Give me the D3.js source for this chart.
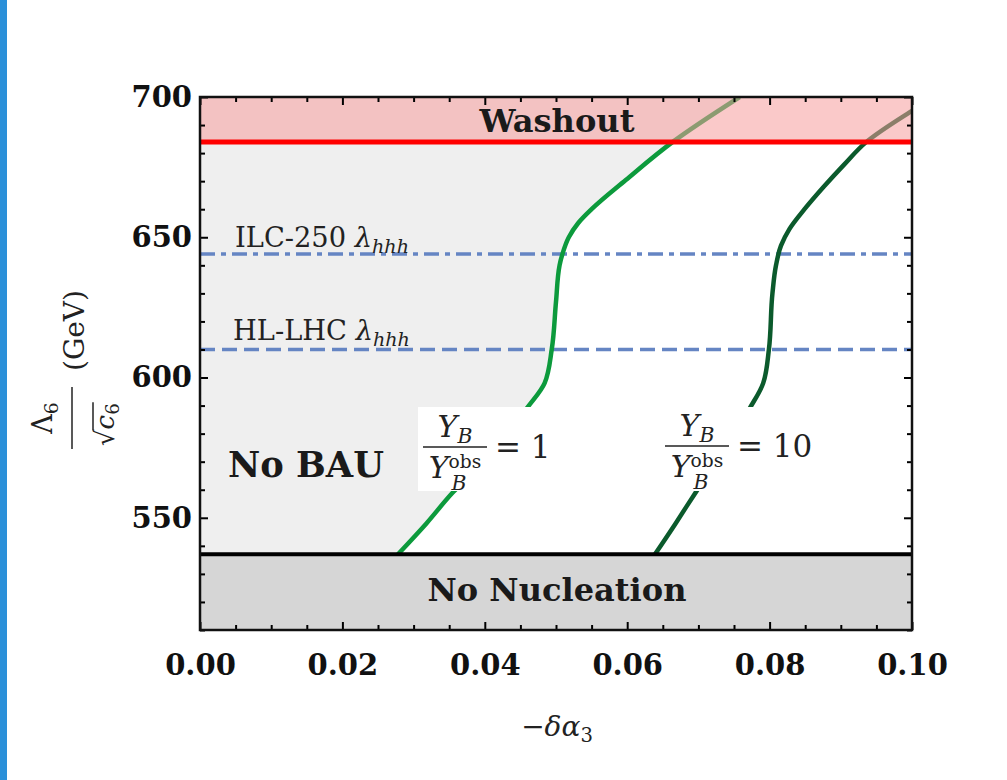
<!DOCTYPE html>
<html><head><meta charset="utf-8">
<script src="https://cdn.jsdelivr.net/npm/d3@7"></script>
<style>body{margin:0;background:#fff} svg{display:block}</style>
</head><body>
<svg id="c" width="1007" height="780"></svg>
<script>
// ---- data ----
const xTickValues = [0, 0.02, 0.04, 0.06, 0.08, 0.10];
const xTickLabels = ["0.00", "0.02", "0.04", "0.06", "0.08", "0.10"];
const yTickValues = [550, 600, 650, 700];
const yTickLabels = ["550", "600", "650", "700"];
const washoutLevel = 684;
const nucleationLevel = 537;
const ilcLevel = 644;
const hllhcLevel = 610;
// Y_B / Y_B^obs = 1 contour
const curve1X = [0.0278, 0.0318, 0.0355, 0.0395, 0.0430, 0.0459, 0.0484, 0.0494, 0.0500, 0.0505, 0.0509, 0.0518, 0.0531, 0.0550, 0.0598, 0.0664, 0.0758];
const curve1Y = [537, 548, 559, 569, 579, 589, 598, 610, 627, 640, 644, 650, 655, 660, 670.4, 684, 700];
// Y_B / Y_B^obs = 10 contour
const curve2X = [0.0639, 0.0668, 0.0695, 0.0722, 0.0748, 0.0772, 0.0791, 0.0799, 0.0804, 0.0809, 0.0816, 0.0828, 0.0849, 0.0876, 0.0905, 0.0936, 0.0997, 0.1012];
const curve2Y = [537, 548, 558.6, 569, 579, 589, 598, 610, 630, 640, 647, 653, 660, 668, 676, 684, 694.6, 697];

// ---- layout ----
const svg = d3.select("#c");
const m = {l: 200, r: 912, t: 97, b: 630};
const x = d3.scaleLinear().domain([0, 0.1]).range([m.l, m.r]);
const y = d3.scaleLinear().domain([510, 700]).range([m.b, m.t]);
const SERIF = "'DejaVu Serif', serif";

// left decorative blue strip
svg.append("rect").attr("x", 0).attr("y", 0).attr("width", 7).attr("height", 780).attr("fill", "#2b90d9");

svg.append("defs").append("clipPath").attr("id", "clip")
  .append("rect").attr("x", m.l).attr("y", m.t).attr("width", m.r - m.l).attr("height", m.b - m.t);

const plot = svg.append("g").attr("clip-path", "url(#clip)");
plot.append("rect").attr("x", m.l).attr("y", m.t).attr("width", m.r - m.l).attr("height", m.b - m.t).attr("fill", "#fff");

const c1 = curve1X.map((v, i) => ({x: v, y: curve1Y[i]}));
const c2 = curve2X.map((v, i) => ({x: v, y: curve2Y[i]}));

// No BAU region (left of curve 1)
plot.append("path").datum(c1)
  .attr("d", d3.area().y(d => y(d.y)).x0(x(0)).x1(d => x(d.x)).curve(d3.curveMonotoneY))
  .attr("fill", "#efefef");

// No nucleation region
plot.append("rect").attr("x", x(0)).attr("width", x(0.1) - x(0))
  .attr("y", y(nucleationLevel)).attr("height", y(510) - y(nucleationLevel)).attr("fill", "#d6d6d6");

// dashed projection lines
plot.append("line").attr("x1", x(0)).attr("x2", x(0.1)).attr("y1", y(ilcLevel)).attr("y2", y(ilcLevel))
  .attr("stroke", "#6585c3").attr("stroke-width", 3.5).attr("stroke-dasharray", "15,6,5,6");
plot.append("line").attr("x1", x(0)).attr("x2", x(0.1)).attr("y1", y(hllhcLevel)).attr("y2", y(hllhcLevel))
  .attr("stroke", "#6585c3").attr("stroke-width", 3.5).attr("stroke-dasharray", "15,7");

// contours
const line = d3.line().x(d => x(d.x)).y(d => y(d.y)).curve(d3.curveMonotoneY);
plot.append("path").datum(c1).attr("d", line).attr("fill", "none").attr("stroke", "#0c9a3c").attr("stroke-width", 4.5);
plot.append("path").datum(c2).attr("d", line).attr("fill", "none").attr("stroke", "#0b5a2c").attr("stroke-width", 4.5);

// label boxes
function fracLabel(cx, lineY, rhs) {
  const g = svg.append("g");
  const num = g.append("text").attr("x", cx).attr("y", lineY - 10).attr("text-anchor", "middle")
    .attr("font-family", SERIF).attr("font-size", 30).attr("font-style", "italic").attr("fill", "#222");
  num.append("tspan").text("Y");
  num.append("tspan").attr("font-size", "0.68em").attr("dy", "0.3em").text("B");
  const den = g.append("text").attr("x", cx).attr("y", lineY + 31).attr("text-anchor", "middle")
    .attr("font-family", SERIF).attr("font-size", 30).attr("font-style", "italic").attr("fill", "#222");
  den.append("tspan").text("Y");
  den.append("tspan").attr("font-size", "0.62em").attr("font-style", "normal").attr("dy", "-0.55em").text("obs");
  den.append("tspan").attr("font-size", "0.68em").attr("x", cx + 4).attr("dy", "1.1em").text("B");
  g.append("line").attr("x1", cx - 32).attr("x2", cx + 32).attr("y1", lineY).attr("y2", lineY)
    .attr("stroke", "#222").attr("stroke-width", 1.5);
  g.append("text").attr("x", cx + 40).attr("y", lineY + 11)
    .attr("font-family", SERIF).attr("font-size", 31).attr("fill", "#222").text(rhs);
  return g;
}
svg.append("rect").attr("x", 418).attr("y", 407).attr("width", 134).attr("height", 84).attr("fill", "#fff");
svg.append("rect").attr("x", 660).attr("y", 407).attr("width", 150).attr("height", 84).attr("fill", "#fff");
fracLabel(455, 447, "= 1");
fracLabel(697, 446, "= 10");

// washout overlay
svg.append("rect").attr("x", x(0)).attr("width", x(0.1) - x(0))
  .attr("y", y(700)).attr("height", y(washoutLevel) - y(700))
  .attr("fill", "#f59c9c").attr("opacity", 0.55);

// boundary lines
svg.append("line").attr("x1", x(0)).attr("x2", x(0.1)).attr("y1", y(washoutLevel)).attr("y2", y(washoutLevel))
  .attr("stroke", "#ff0000").attr("stroke-width", 5);
svg.append("line").attr("x1", x(0)).attr("x2", x(0.1)).attr("y1", y(nucleationLevel)).attr("y2", y(nucleationLevel))
  .attr("stroke", "#000").attr("stroke-width", 4);

// axes: ticks inward on all four sides
const minorX = d3.range(0, 0.1001, 0.005).filter(v => !xTickValues.some(t => Math.abs(t - v) < 1e-9));
const minorY = d3.range(510, 701, 10).filter(v => !yTickValues.includes(v));
function styleAxis(g) {
  g.selectAll(".domain").remove();
  g.selectAll(".tick line").attr("stroke", "#000").attr("stroke-width", 2);
}
const fmtX = (d, i) => xTickLabels[i];
const fmtY = (d, i) => yTickLabels[i];

svg.append("g").attr("transform", `translate(0,${m.b})`)
  .call(d3.axisBottom(x).tickValues(xTickValues).tickFormat(fmtX).tickSizeInner(-8).tickSizeOuter(0).tickPadding(24))
  .call(styleAxis)
  .call(g => g.selectAll("text").attr("font-family", SERIF).attr("font-weight", "bold").attr("font-size", 29).attr("fill", "#111"));
svg.append("g").attr("transform", `translate(0,${m.b})`)
  .call(d3.axisBottom(x).tickValues(minorX).tickFormat("").tickSizeInner(-5).tickSizeOuter(0)).call(styleAxis);
svg.append("g").attr("transform", `translate(0,${m.t})`)
  .call(d3.axisTop(x).tickValues(xTickValues).tickFormat("").tickSizeInner(-8).tickSizeOuter(0)).call(styleAxis);
svg.append("g").attr("transform", `translate(0,${m.t})`)
  .call(d3.axisTop(x).tickValues(minorX).tickFormat("").tickSizeInner(-5).tickSizeOuter(0)).call(styleAxis);

svg.append("g").attr("transform", `translate(${m.l},0)`)
  .call(d3.axisLeft(y).tickValues(yTickValues).tickFormat(fmtY).tickSizeInner(-8).tickSizeOuter(0).tickPadding(8))
  .call(styleAxis)
  .call(g => g.selectAll("text").attr("font-family", SERIF).attr("font-weight", "bold").attr("font-size", 29).attr("fill", "#111"));
svg.append("g").attr("transform", `translate(${m.l},0)`)
  .call(d3.axisLeft(y).tickValues(minorY).tickFormat("").tickSizeInner(-5).tickSizeOuter(0)).call(styleAxis);
svg.append("g").attr("transform", `translate(${m.r},0)`)
  .call(d3.axisRight(y).tickValues(yTickValues).tickFormat("").tickSizeInner(-8).tickSizeOuter(0)).call(styleAxis);
svg.append("g").attr("transform", `translate(${m.r},0)`)
  .call(d3.axisRight(y).tickValues(minorY).tickFormat("").tickSizeInner(-5).tickSizeOuter(0)).call(styleAxis);

// frame
svg.append("rect").attr("x", m.l).attr("y", m.t).attr("width", m.r - m.l).attr("height", m.b - m.t)
  .attr("fill", "none").attr("stroke", "#111").attr("stroke-width", 2.5);

// fit helper
function fit(sel, w) {
  const n = sel.node();
  const cur = n.getComputedTextLength();
  const fs = parseFloat(sel.attr("font-size"));
  sel.attr("font-size", fs * w / cur);
  return sel;
}

// region labels
fit(svg.append("text").attr("x", 557).attr("y", 132).attr("text-anchor", "middle")
  .attr("font-family", SERIF).attr("font-weight", "bold").attr("font-size", 32).attr("fill", "#1a1a1a").text("Washout"), 155);
fit(svg.append("text").attr("x", 228).attr("y", 477)
  .attr("font-family", SERIF).attr("font-weight", "bold").attr("font-size", 32).attr("fill", "#1a1a1a").text("No BAU"), 156);
fit(svg.append("text").attr("x", 557).attr("y", 601).attr("text-anchor", "middle")
  .attr("font-family", SERIF).attr("font-weight", "bold").attr("font-size", 30).attr("fill", "#1a1a1a").text("No Nucleation"), 259);

function lamLabel(x0, y0, prefix, w) {
  const t = svg.append("text").attr("x", x0).attr("y", y0)
    .attr("font-family", SERIF).attr("font-size", 24).attr("fill", "#222");
  t.append("tspan").text(prefix + " ");
  t.append("tspan").attr("font-style", "italic").text("λ");
  t.append("tspan").attr("font-style", "italic").attr("font-size", "0.7em").attr("dy", "0.3em").text("hhh");
  fit(t, w);
}
lamLabel(235, 247, "ILC-250", 174);
lamLabel(233, 340, "HL-LHC", 177);

// x axis title
const xt = svg.append("text").attr("x", 557).attr("y", 736).attr("text-anchor", "middle")
  .attr("font-family", SERIF).attr("font-size", 28).attr("fill", "#222");
xt.append("tspan").text("−");
xt.append("tspan").attr("font-style", "italic").text("δα");
xt.append("tspan").attr("font-size", "0.7em").attr("dy", "0.3em").text("3");

// y axis title (rotated)
const yt = svg.append("g").attr("transform", "translate(72,449) rotate(-90)");
yt.append("line").attr("x1", 0).attr("x2", 62).attr("y1", 0).attr("y2", 0).attr("stroke", "#222").attr("stroke-width", 1.5);
const ynum = yt.append("text").attr("x", 31).attr("y", -20).attr("text-anchor", "middle")
  .attr("font-family", SERIF).attr("font-size", 27).attr("fill", "#222");
ynum.append("tspan").text("Λ");
ynum.append("tspan").attr("font-size", "0.7em").attr("dy", "0.3em").text("6");
const sq = yt.append("text").attr("x", 3).attr("y", 42)
  .attr("font-family", SERIF).attr("font-size", 26).attr("fill", "#222").text("√");
const sqW = sq.node().getComputedTextLength();
const cc = yt.append("text").attr("x", 3 + sqW).attr("y", 42)
  .attr("font-family", SERIF).attr("font-size", 26).attr("fill", "#222");
cc.append("tspan").attr("font-style", "italic").text("c");
cc.append("tspan").attr("font-size", "0.7em").attr("dy", "0.3em").text("6");
const ccW = cc.node().getComputedTextLength();
yt.append("line").attr("x1", 3 + sqW - 1).attr("x2", 3 + sqW + ccW + 1).attr("y1", 42 - 21).attr("y2", 42 - 21)
  .attr("stroke", "#222").attr("stroke-width", 1.5);
yt.append("text").attr("x", 78).attr("y", 12)
  .attr("font-family", SERIF).attr("font-size", 28).attr("fill", "#222").text("(GeV)");
</script>
</body></html>
